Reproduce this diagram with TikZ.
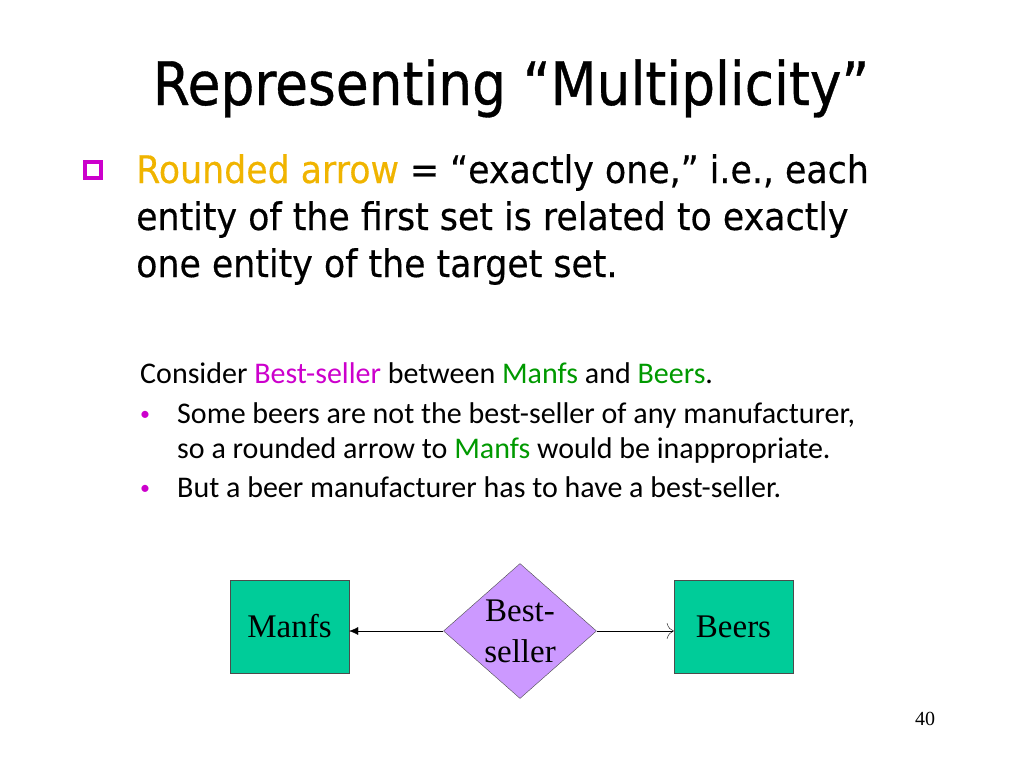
\documentclass[tikz,border=0pt]{standalone}
\usepackage{fontspec}
\setmainfont{DejaVu Sans}
\newfontfamily\calib{Carlito}
\newfontfamily\tms{Liberation Serif}
\usetikzlibrary{shapes.geometric,arrows.meta}
\definecolor{ent}{RGB}{0,204,153}
\definecolor{rel}{RGB}{204,153,255}
\definecolor{grn}{RGB}{0,153,0}
\definecolor{org}{RGB}{240,180,0}
\definecolor{mag}{RGB}{204,0,204}
\begin{document}
\begin{tikzpicture}[x=1pt,y=-1pt,
  entity/.style={draw=black!70,fill=ent,minimum width=119pt,minimum height=93pt,inner sep=0pt,font=\tms\fontsize{33}{36}\selectfont},
  txt/.style={anchor=base west,inner sep=0pt}]
\useasboundingbox (0,0) rectangle (1024,768);
\node[anchor=base,inner sep=0pt,font=\fontsize{60}{70}\selectfont\addfontfeatures{FakeStretch=0.89,FakeBold=0.6}] (title) at (511,105) {Representing “Multiplicity”};
\node[draw=mag,line width=4pt,minimum size=16pt,inner sep=0pt] (sq) at (93,170) {};
\begin{scope}[every node/.style={txt,font=\fontsize{38}{44}\selectfont\addfontfeatures{FakeStretch=0.915,FakeBold=0.4}}]
\node (l1) at (136,183) {\textcolor{org}{Rounded arrow} = “exactly one,” i.e., each};
\node (l2) at (136,230) {entity of the first set is related to exactly};
\node (l3) at (136,277) {one entity of the target set.};
\end{scope}
\begin{scope}[every node/.style={txt,font=\calib\fontsize{30}{34}\selectfont}]
\node (s1) at (140,383) {Consider \textcolor{mag}{Best-seller} between \textcolor{grn}{Manfs} and \textcolor{grn}{Beers}.};
\node[text=mag,font=\calib\fontsize{20}{24}\selectfont] (b1) at (140,420) {•};
\node (s2) at (177,423) {Some beers are not the best-seller of any manufacturer,};
\node (s3) at (177,458) {so a rounded arrow to \textcolor{grn}{Manfs} would be inappropriate.};
\node[text=mag,font=\calib\fontsize{20}{24}\selectfont] (b2) at (140,494) {•};
\node (s4) at (177,497) {But a beer manufacturer has to have a best-seller.};
\end{scope}
\node[entity] (manfs) at (289.5,626.5) {Manfs};
\node[entity] (beers) at (733.5,626.5) {Beers};
\node[diamond,draw=black!70,fill=rel,minimum width=153pt,minimum height=135pt,inner sep=0pt,aspect=1.13,
  font=\tms\fontsize{33}{41}\selectfont,align=center] (bs) at (520,631) {Best-\\seller};
\draw[-{Latex[length=9pt,width=8pt]}] (bs.west) -- (manfs.east|-bs.west);
\draw[-{To[length=7pt,width=16pt]}] (bs.east) -- (beers.west|-bs.east);
\node[txt,font=\tms\fontsize{20}{24}\selectfont] (pg) at (915,725) {40};
\end{tikzpicture}
\end{document}
